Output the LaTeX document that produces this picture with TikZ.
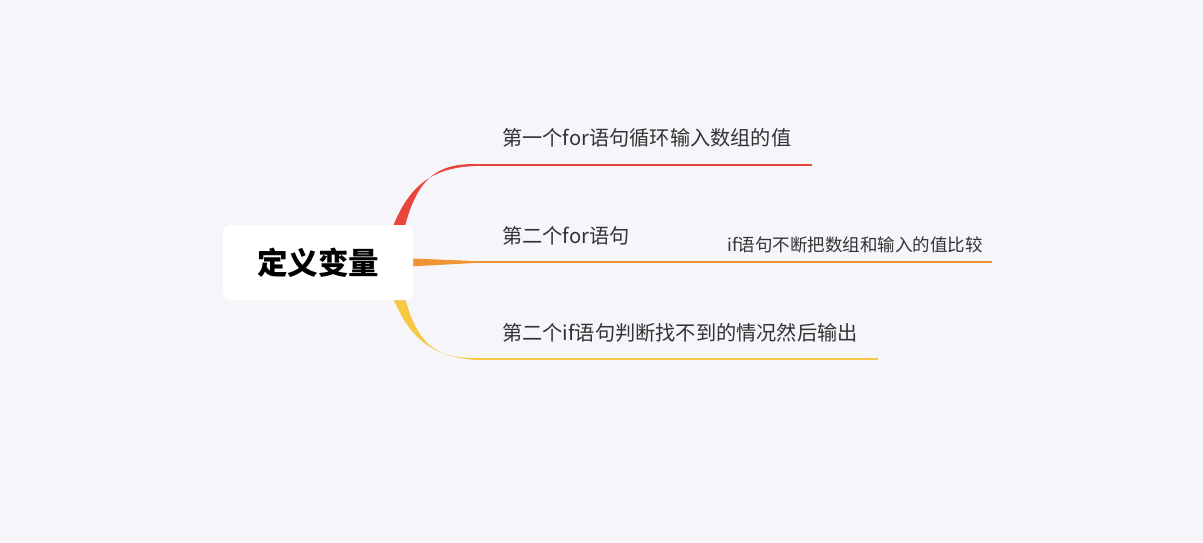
\documentclass[tikz,border=0pt]{standalone}
\usepackage{fontspec}
\setmainfont{Noto Sans CJK SC}
\begin{document}
\begin{tikzpicture}[x=1pt,y=-1pt,
  lbl/.style={anchor=west,inner sep=0pt,text=black!80,font=\fontsize{20.2}{23}\selectfont},
  sublbl/.style={anchor=west,inner sep=0pt,text=black!80,font=\fontsize{17.5}{20}\selectfont},
  rootbox/.style={fill=white,rounded corners=8pt,minimum width=190pt,minimum height=75pt,inner sep=0pt,font=\fontsize{30.5}{34}\selectfont\bfseries}]
\definecolor{bg}{HTML}{F5F5FA}
\definecolor{cred}{HTML}{E8453C}
\definecolor{corange}{HTML}{EF9433}
\definecolor{cyellow}{HTML}{F6C844}
\fill[bg] (0,0) rectangle (1203,543);
\useasboundingbox (0,0) rectangle (1203,543);
% branch coordinates
\coordinate (e1) at (812,165);
\coordinate (e2) at (992,262);
\coordinate (e3) at (878,359);
% tapered curves
\fill[cred] (398,262) .. controls (410,180) and (433,164) .. (475,164)
  -- (475,166) .. controls (428,168) and (400,188) .. (382,262) -- cycle;
\draw[cred,line width=2pt] (475,165) -- (e1);
\fill[corange] (400,258) -- (478,261.2) -- (478,262.8) -- (400,267) -- cycle;
\draw[corange,line width=2pt] (478,262) -- (e2);
\fill[cyellow] (398,262) .. controls (410,344) and (433,358) .. (475,358)
  -- (475,360) .. controls (428,356) and (400,336) .. (382,262) -- cycle;
\draw[cyellow,line width=2pt] (475,359) -- (e3);
% root
\node[rootbox] (root) at (318,262.5) {定义变量};
% labels
\node[lbl] (t1) at (502,138) {第一个for语句循环输入数组的值};
\node[lbl] (t2) at (502,236) {第二个for语句};
\node[sublbl] (t21) at (727,245) {if语句不断把数组和输入的值比较};
\node[lbl] (t3) at (502,333) {第二个if语句判断找不到的情况然后输出};
\end{tikzpicture}
\end{document}
